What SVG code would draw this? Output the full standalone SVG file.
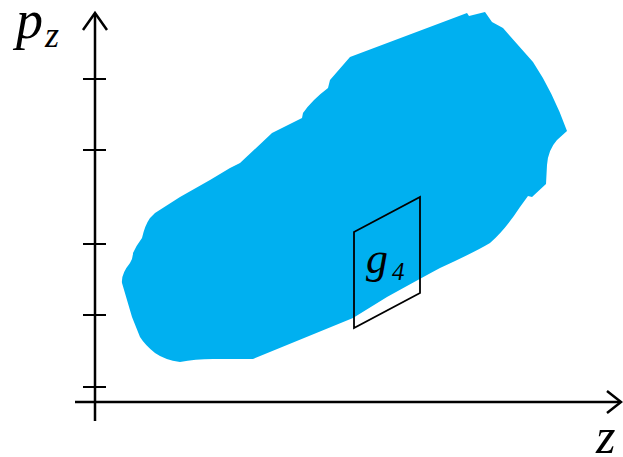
<svg xmlns="http://www.w3.org/2000/svg" width="623" height="457" viewBox="0 0 623 457">
<style>
.ax{stroke:#000;stroke-width:2.5;fill:none;stroke-linecap:butt}
.tk{stroke:#000;stroke-width:2}
.lbl{font-family:"Liberation Serif","DejaVu Serif",serif;font-style:italic;fill:#000}
</style>
<rect width="623" height="457" fill="#fff"/>
<g id="region">
<path fill="#00B0F0" d="M350,57 L467,13 L469,16 L485,12 L492,22 L503,28 L533,62 Q553,92 567,131 L557,140 Q548,150 547,165 L546,184 L532,197 L528,196 L520,207 Q505,230 490,243 Q475,252 440,268 Q425,276 387,297 L353,318 L253,359 L213,359 Q195,359 180,362 Q165,360 155,353 Q145,345 140,337 L132,317 L122,283 Q121,274 130,263 Q133,258 133,253 Q136,246 142,238 Q145,225 150,218 L155,213 L180,197 L210,180 L230,168 L240,163 L272,133 L302,118 L303,113 Q312,100 328,88 L330,80 Z"/>
</g>
<g id="axes">
<path class="ax" d="M95,421 V14"/>
<path class="ax" d="M83,30 L95,13 L107,30"/>
<path class="ax" d="M75,402 H620"/>
<path class="ax" d="M607,391 L621,402 L607,413"/>
<line class="tk" x1="83" y1="79" x2="106" y2="79"/>
<line class="tk" x1="83" y1="150" x2="106" y2="150"/>
<line class="tk" x1="83" y1="244" x2="106" y2="244"/>
<line class="tk" x1="83" y1="315" x2="106" y2="315"/>
<line class="tk" x1="83" y1="387" x2="106" y2="387"/>
</g>
<g id="g4">
<polygon points="354,232 420,197 420,293 354,328" fill="none" stroke="#000" stroke-width="1.8"/>
<text class="lbl" x="366" y="273" font-size="44">g</text>
<text class="lbl" x="392" y="280" font-size="25" font-style="normal">4</text>
</g>
<g id="labels">
<text class="lbl" x="16" y="38" font-size="54">p</text>
<text class="lbl" x="45" y="47" font-size="36">z</text>
<text class="lbl" x="596" y="453" font-size="50">z</text>
</g>
</svg>
